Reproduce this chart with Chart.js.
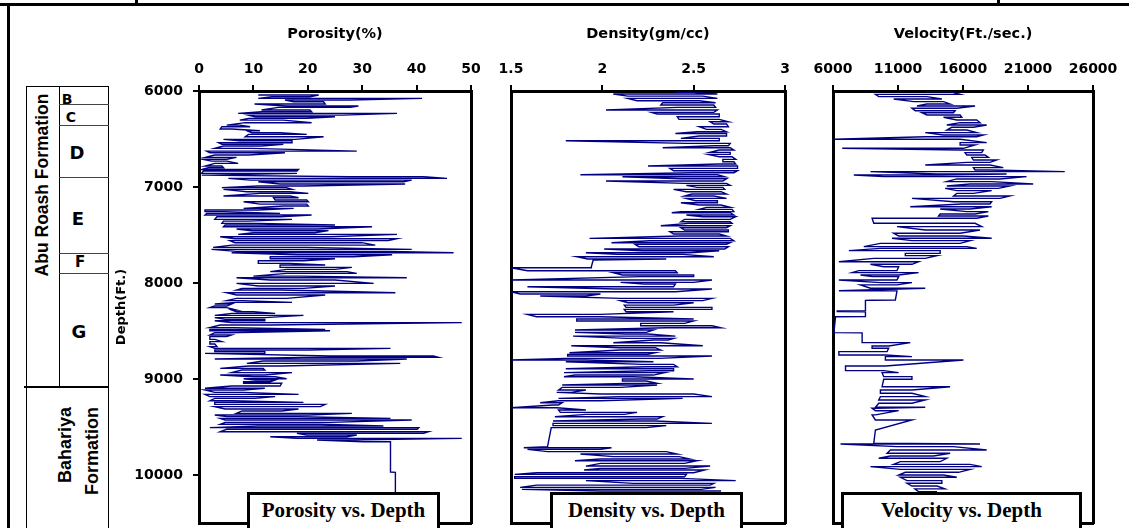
<!DOCTYPE html>
<html>
<head>
<meta charset="utf-8">
<script src="https://cdn.jsdelivr.net/npm/chart.js@4.4.1/dist/chart.umd.min.js"></script>
<style>
  html, body { margin: 0; padding: 0; background: #fff; }
  #page { position: relative; width: 1129px; height: 528px; overflow: hidden; background: #fff; }
  canvas { position: absolute; top: 0; }
  .ln { position: absolute; background: #000; }
  .rot { position: absolute; white-space: nowrap; font-family: "Liberation Sans", Arial, sans-serif; font-weight: bold; transform: translate(-50%, -50%) rotate(-90deg); line-height: 1; }
  .zone { position: absolute; font-family: "DejaVu Sans", sans-serif; font-weight: bold; transform: translate(-50%, -50%); line-height: 1; }
  .cap { position: absolute; top: 492px; height: 50px; background: #fff; border: 3px solid #000; box-sizing: border-box;
         font-family: "Liberation Serif", "Times New Roman", serif; font-weight: bold; font-size: 21px; line-height: 26px; text-align: center; padding-top: 2px; }
</style>
</head>
<body>
<div id="page">
  <!-- outer frame -->
  <div class="ln" style="left:0;top:3px;width:1129px;height:3px"></div>
  <div class="ln" style="left:135px;top:0;width:3px;height:5px"></div>
  <div class="ln" style="left:997px;top:0;width:3px;height:5px"></div>
  <div class="ln" style="left:7px;top:4px;width:3px;height:524px"></div>

  <!-- formation column -->
  <div style="position:absolute;left:26px;top:86px;width:83px;height:460px;border:1px solid #000;box-sizing:border-box"></div>
  <div class="ln" style="left:59px;top:86px;width:1px;height:301px"></div>
  <div class="ln" style="left:59px;top:104px;width:50px;height:1px;background:#444"></div>
  <div class="ln" style="left:59px;top:125px;width:50px;height:1px;background:#444"></div>
  <div class="ln" style="left:59px;top:177px;width:50px;height:1px;background:#444"></div>
  <div class="ln" style="left:59px;top:253px;width:50px;height:1px;background:#444"></div>
  <div class="ln" style="left:59px;top:273px;width:50px;height:1px;background:#444"></div>
  <div class="ln" style="left:24px;top:386px;width:85px;height:2px"></div>

  <div class="rot" style="left:43px;top:185px;font-size:17.5px">Abu Roash Formation</div>
  <div class="rot" style="left:65px;top:445px;font-size:18px">Bahariya</div>
  <div class="rot" style="left:92px;top:451px;font-size:18px">Formation</div>

  <div class="zone" style="left:67px;top:99px;font-size:14px">B</div>
  <div class="zone" style="left:71px;top:117px;font-size:14px">C</div>
  <div class="zone" style="left:77px;top:153px;font-size:18px">D</div>
  <div class="zone" style="left:78px;top:219px;font-size:18px">E</div>
  <div class="zone" style="left:80px;top:262px;font-size:15px">F</div>
  <div class="zone" style="left:79px;top:332px;font-size:18px">G</div>

  <canvas id="porosity" width="370" height="528" style="left:110px"></canvas>
  <canvas id="density" width="310" height="528" style="left:485px"></canvas>
  <canvas id="velocity" width="329" height="528" style="left:800px"></canvas>

  <div class="cap" style="left:247px;width:193px">Porosity vs. Depth</div>
  <div class="cap" style="left:550px;width:193px">Density vs. Depth</div>
  <div class="cap" style="left:841px;width:241px">Velocity vs. Depth</div>
</div>

<script>
// depth axis (ft)
const depthMin = 6000;
const depthMax = 10500;
const depthTicks = [6000, 7000, 8000, 9000, 10000];

// top scale ticks of each track
const porTicks = [0, 10, 20, 30, 40, 50];
const denTicks = [1.5, 2, 2.5, 3];
const velTicks = [6000, 11000, 16000, 21000, 26000];

// porosity (%) : each row is one swing of the log between a low and a high reading
const porDepth = [
  6042,6060,6077,6094,6112,6136,6157,6171,6198,6216,
  6233,6251,6268,6285,6303,6330,6355,6372,6396,6414,
  6435,6452,6476,6504,6518,6539,6556,6573,6598,6626,
  6643,6667,6692,6712,6730,6754,6782,6799,6817,6834,
  6858,6876,6893,6910,6928,6945,6969,6990,7007,7025,
  7049,7066,7094,7112,7136,7153,7178,7198,7223,7240,
  7257,7275,7292,7310,7337,7355,7379,7396,7414,7438,
  7455,7476,7494,7518,7539,7559,7580,7605,7629,7650,
  7671,7685,7705,7726,7747,7768,7796,7813,7837,7858,
  7882,7900,7928,7945,7969,8004,8031,8056,8073,8101,
  8125,8160,8184,8202,8219,8240,8257,8281,8299,8316,
  8337,8361,8379,8393,8413,8438,8465,8483,8497,8518,
  8542,8559,8587,8611,8636,8663,8681,8698,8715,8733,
  8761,8775,8792,8813,8837,8865,8889,8906,8934,8959,
  8976,8997,9011,9028,9045,9073,9097,9115,9139,9160,
  9184,9202,9226,9243,9264,9288,9313,9333,9358,9375,
  9392,9410,9427,9452,9472,9490,9507,9524,9549,9566,
  9583,9601,9618,9636,9653,9655,9969,9972,10500
];
const porLow = [
  10.9,13.4,10.9,15.8,17.4,10.2,16.1,14.6,11.5,11.5,
  7.2,9.1,10.3,9.1,7.5,8.5,5.1,4.2,3.9,8.8,
  9.7,9.1,8.5,4.5,7.5,3.6,4.2,4.5,2.9,1.4,
  2.0,2.9,1.1,0.8,2.3,2.9,1.1,1.7,0.5,0.8,
  0.5,0.5,27.8,5.4,9.4,10.9,14.9,10.9,4.2,4.5,
  8.8,11.2,4.5,13.7,14.0,8.2,11.2,15.5,8.2,1.1,
  1.1,1.4,1.1,3.3,2.9,4.5,4.2,4.8,4.5,6.9,
  9.7,10.0,7.2,3.9,6.6,5.7,6.6,6.0,2.6,2.3,
  6.9,6.0,18.0,13.1,13.1,10.9,10.9,14.9,14.9,16.1,
  13.1,16.1,10.0,6.9,13.1,6.9,10.9,7.9,6.9,5.1,
  6.9,6.9,5.1,6.9,2.9,2.9,2.0,6.0,6.9,6.0,
  2.9,2.9,4.8,2.9,6.0,3.9,2.0,2.0,2.0,2.9,
  2.0,2.0,2.0,2.0,2.0,2.0,2.9,2.9,2.9,1.1,
  24.1,18.9,2.9,11.8,8.8,9.1,3.9,7.9,6.0,3.9,
  10.0,8.2,10.3,8.2,8.2,6.0,1.1,1.1,2.9,1.1,
  2.0,2.9,2.0,2.9,2.9,2.9,4.8,7.9,6.9,2.9,
  5.1,3.9,4.8,4.8,3.9,10.9,2.0,5.1,3.9,18.0,
  19.8,13.1,18.0,21.7,30.2,35.2,35.2,36.1,36.1
];
const porHigh = [
  22.0,20.4,41.0,27.8,22.9,23.2,29.3,27.8,20.4,20.7,
  36.4,26.3,25.0,19.8,15.5,20.7,7.5,9.4,6.0,11.2,
  14.9,19.8,22.9,17.7,17.1,17.1,15.5,11.5,9.7,29.0,
  15.8,9.1,6.9,5.1,5.1,7.2,4.2,4.5,18.3,18.0,
  18.0,2.0,41.3,45.6,39.1,37.6,37.9,19.2,16.1,17.1,
  16.7,20.1,16.7,18.3,19.8,20.1,19.8,20.1,17.4,10.9,
  4.5,14.9,20.7,14.9,17.1,9.1,10.9,25.0,31.8,21.7,
  23.8,21.3,36.4,24.1,36.4,34.8,29.9,32.4,19.8,39.1,
  35.2,46.8,35.5,28.4,25.0,19.2,16.7,23.2,28.1,25.0,
  27.2,29.0,18.6,38.2,25.0,32.1,25.0,19.2,15.2,36.1,
  23.2,16.1,8.2,17.1,6.0,5.1,5.1,6.9,10.0,14.0,
  19.2,12.1,12.1,12.1,48.3,13.1,6.3,23.2,24.1,5.1,
  6.0,5.1,2.9,4.2,2.9,3.3,35.2,20.1,12.1,12.1,
  43.1,44.0,38.2,29.0,37.0,15.2,11.8,12.1,17.1,12.1,
  14.0,16.1,14.0,13.1,15.2,14.9,12.1,8.2,8.2,18.3,
  14.0,10.3,6.0,19.2,23.2,22.3,18.3,15.2,28.1,20.1,
  18.3,35.2,39.1,24.1,22.3,33.9,40.4,40.1,42.2,41.3,
  29.0,27.2,48.3,27.2,35.2,35.2,35.2,36.1,36.1
];

// bulk density (gm/cc)
const denDepth = [
  6014,6032,6053,6077,6101,6122,6146,6171,6198,6223,
  6240,6268,6296,6320,6344,6372,6400,6424,6442,6469,
  6494,6518,6546,6570,6591,6615,6639,6660,6685,6712,
  6737,6761,6782,6806,6830,6851,6872,6893,6914,6938,
  6962,6983,7004,7025,7049,7073,7094,7119,7143,7164,
  7188,7212,7233,7257,7268,7292,7310,7337,7362,7379,
  7403,7424,7448,7466,7490,7511,7535,7560,7580,7598,
  7622,7646,7664,7685,7702,7726,7750,7761,7830,7841,
  7872,7893,7917,7934,7969,7994,8011,8039,8063,8091,
  8115,8136,8160,8184,8205,8230,8254,8275,8299,8327,
  8351,8375,8396,8421,8445,8466,8490,8514,8532,8553,
  8577,8594,8622,8653,8674,8698,8726,8743,8761,8785,
  8802,8820,8848,8872,8893,8914,8934,8959,8976,9000,
  9021,9046,9063,9087,9115,9139,9157,9184,9202,9226,
  9247,9271,9299,9323,9348,9368,9393,9417,9438,9462,
  9486,9507,9510,9705,9716,9733,9757,9782,9809,9834,
  9851,9879,9907,9931,9948,9976,9993,10018,10035,10059,
  10087,10105,10129,10150,10167
];
const denLow = [
  2.40,2.06,2.14,2.14,2.19,2.33,2.32,2.41,2.02,2.27,
  2.30,2.41,2.42,2.59,2.61,2.53,2.57,2.52,2.40,2.53,
  2.43,1.80,2.46,2.61,2.33,2.64,2.59,2.58,2.64,2.66,
  2.66,2.64,2.25,2.37,2.39,2.50,1.88,2.11,2.43,2.02,
  2.45,2.46,2.52,2.39,2.46,2.49,2.45,2.46,2.51,2.43,
  2.53,2.57,2.53,2.43,2.38,2.46,2.55,2.45,2.43,2.47,
  2.32,2.43,2.45,2.37,2.39,2.42,1.93,2.26,2.05,2.18,
  2.20,2.01,2.22,1.91,2.08,1.86,1.92,1.95,1.94,1.50,
  1.59,2.06,2.11,2.21,1.50,2.10,2.23,1.59,2.07,1.50,
  1.55,1.66,2.10,2.10,2.14,2.12,2.13,2.12,2.13,1.59,
  1.64,1.86,1.86,2.21,2.21,2.35,1.85,1.85,2.13,1.84,
  2.13,2.28,2.06,1.83,2.09,2.10,1.82,1.81,1.81,1.80,
  1.50,1.80,2.22,2.24,1.80,2.26,1.79,1.85,1.79,2.11,
  2.11,2.13,1.78,1.78,1.76,1.75,1.99,2.10,1.76,1.76,
  1.66,1.73,1.50,1.76,1.77,1.91,1.74,2.21,1.73,1.73,
  1.73,1.72,1.72,1.70,1.57,1.59,1.70,1.88,2.06,1.99,
  1.85,1.99,1.91,1.99,1.90,1.64,1.52,1.52,1.52,1.91,
  2.17,1.64,1.55,1.56,1.99
];
const denHigh = [
  2.50,2.63,2.55,2.63,2.53,2.62,2.61,2.62,2.63,2.61,
  2.64,2.64,2.64,2.69,2.68,2.69,2.65,2.68,2.68,2.68,
  2.64,2.64,2.70,2.69,2.70,2.72,2.70,2.70,2.71,2.73,
  2.72,2.73,2.74,2.74,2.74,2.72,2.63,2.67,2.68,2.66,
  2.68,2.70,2.66,2.67,2.65,2.68,2.61,2.68,2.63,2.63,
  2.65,2.70,2.71,2.72,2.70,2.72,2.73,2.70,2.70,2.71,
  2.70,2.68,2.69,2.69,2.64,2.68,2.70,2.72,2.70,2.68,
  2.69,2.67,2.64,2.48,2.44,2.61,2.35,1.95,1.94,1.94,
  2.40,2.41,2.50,2.50,2.60,2.50,2.40,2.39,2.60,2.40,
  1.99,1.91,2.60,2.55,2.50,2.39,2.60,2.60,2.39,1.99,
  1.99,2.50,2.50,2.45,2.60,2.65,2.28,2.24,2.25,2.40,
  2.39,2.36,2.32,2.55,2.29,2.32,2.29,2.25,2.60,2.31,
  1.91,2.28,2.39,2.41,2.39,2.39,2.34,2.28,2.17,2.50,
  2.24,2.30,2.30,2.10,1.91,1.83,2.50,2.60,2.44,1.99,
  1.78,1.76,1.75,1.91,2.19,2.12,2.33,2.30,2.29,2.60,
  2.35,2.24,1.72,1.70,2.05,1.99,2.35,2.41,2.42,2.48,
  2.52,2.45,2.59,2.45,2.56,2.50,2.46,2.45,2.43,2.73,
  2.61,2.59,2.62,2.54,2.65
];

// velocity (ft/sec)
const velDepth = [
  6007,6035,6059,6083,6111,6135,6156,6180,6205,6226,
  6250,6274,6302,6330,6354,6378,6406,6434,6458,6476,
  6503,6538,6562,6597,6614,6642,6666,6691,6719,6743,
  6771,6798,6823,6840,6864,6875,6892,6916,6944,6969,
  6989,7014,7038,7066,7093,7118,7153,7177,7205,7229,
  7257,7281,7302,7326,7378,7413,7448,7482,7510,7534,
  7559,7587,7621,7639,7663,7691,7715,7743,7778,7805,
  7830,7871,7892,7916,7934,7968,7996,8020,8055,8080,
  8082,8177,8179,8181,8290,8292,8298,8300,8350,8352,
  8517,8519,8621,8656,8680,8715,8750,8767,8802,8864,
  8913,8934,8975,9003,9080,9114,9149,9184,9218,9253,
  9295,9305,9330,9374,9427,9531,9670,9677,9704,9739,
  9774,9802,9826,9861,9889,9913,9941,9972,10000,10024,
  10059,10086,10115,10145,10175
];
const velLow = [
  13095,9263,9518,10668,12201,13223,12456,12073,12329,12840,
  13223,14500,15522,15778,14756,15139,14756,13095,14500,13095,
  6100,15778,15778,6708,15778,16161,16289,16672,16800,16289,
  13095,16800,16928,8879,13989,7602,9901,15522,14756,16544,
  14756,14628,15522,15522,15267,12073,15267,15906,11945,14245,
  16289,14245,14117,9007,9135,10923,13095,10668,11051,10540,
  12073,9646,8368,9646,7219,11562,11562,9135,6452,8879,
  9901,7985,7474,8113,9007,6452,9646,8113,8879,6452,
  10923,10796,9007,8496,8496,6324,6324,8496,8496,6197,
  6069,8240,8240,9007,9007,6452,6452,10029,10029,6963,
  6963,9774,9901,9901,9774,9646,9646,9646,9518,9518,
  9263,9007,9263,9007,9263,9263,9135,6580,10923,10412,
  10157,10412,9518,11179,10668,8879,11179,11562,11051,11179,
  11690,11690,12073,12300,12600
];
const velHigh = [
  15011,15778,13223,14373,14500,15011,16928,15522,15395,15267,
  15778,15906,17055,17311,17822,16800,16289,17055,17566,17055,
  15778,17822,16928,16033,17566,17439,17694,17950,18589,18077,
  18077,19100,18077,23826,19355,14245,20888,18844,18205,21399,
  19610,18716,18205,16800,19610,18844,18205,18077,18205,16544,
  17950,16928,17950,17055,16928,17439,17311,15778,16033,18205,
  16544,15778,16289,17055,14245,14245,13989,13095,12584,12073,
  11051,10923,12584,11051,11051,10923,12073,10923,13095,6452,
  10923,10796,9007,8496,8496,6324,6324,8496,8496,6197,
  6069,8240,11945,10285,10285,10157,10029,12073,16033,10029,
  9901,11051,12073,12073,15011,12073,12073,13095,13095,12073,
  13095,9263,11051,9263,12073,9263,9135,17311,15267,17822,
  15011,13734,14756,14245,16544,17439,16544,15650,14500,15522,
  14373,14373,14000,14600,14000
];

Chart.defaults.font.family = '"DejaVu Sans", sans-serif';
Chart.defaults.font.weight = 'bold';
Chart.defaults.color = '#000';

const PLOT_TOP = 91, PLOT_BOTTOM = 523, PAGE_H = 528;

// the log is drawn as one continuous trace swinging between the low and high reading of each row
function trace(depths, lows, highs) {
  const pts = [];
  depths.forEach((d, i) => {
    if (i % 2 === 0) pts.push({ x: lows[i], y: d }, { x: highs[i], y: d });
    else pts.push({ x: highs[i], y: d }, { x: lows[i], y: d });
  });
  return pts;
}

function fixedTicks(values) {
  return s => { s.ticks = values.map(v => ({ value: v })); };
}

// pin a scale's size and drop the label overhang padding so every plot box lines up
function pin(size) {
  return s => {
    if (s.isHorizontal()) s.height = size; else s.width = size;
    s.paddingTop = 0; s.paddingBottom = 0; s.paddingLeft = 0; s.paddingRight = 0;
  };
}

function makeTrack(id, o) {
  const canvas = document.getElementById(id);
  const canvasLeft = parseInt(canvas.style.left, 10);
  const leftW = o.plotLeft - canvasLeft;
  const rightW = canvas.width - (o.plotRight - canvasLeft);
  const frame = { color: '#000', width: 3 };
  return new Chart(canvas, {
    type: 'scatter',
    data: {
      datasets: [{
        data: o.points,
        showLine: true,
        borderColor: '#000080',
        borderWidth: 1.4,
        pointRadius: 0,
        pointHoverRadius: 0,
        tension: 0
      }]
    },
    options: {
      responsive: false,
      animation: false,
      devicePixelRatio: 1,
      events: [],
      layout: { padding: 0, autoPadding: false },
      plugins: { legend: { display: false }, tooltip: { enabled: false } },
      scales: {
        x: {
          type: 'linear', position: 'top',
          min: o.ticks[0], max: o.ticks[o.ticks.length - 1],
          afterBuildTicks: fixedTicks(o.ticks),
          ticks: { autoSkip: false, maxRotation: 0, padding: 7, font: { size: 14, weight: 'bold' },
                   callback: v => String(v) },
          grid: { drawOnChartArea: false, drawTicks: true, tickLength: 6, color: '#000', lineWidth: 2 },
          border: frame,
          title: { display: true, text: o.title, font: { size: 14.5, weight: 'bold' }, padding: { top: 26, bottom: 0 } },
          afterFit: pin(PLOT_TOP)
        },
        y: {
          type: 'linear', position: 'left', reverse: true,
          min: depthMin, max: depthMax,
          afterBuildTicks: fixedTicks(depthTicks),
          ticks: { display: o.showDepth, autoSkip: false, padding: 10, font: { size: 14, weight: 'bold' },
                   callback: v => String(v) },
          grid: { display: o.showDepth, drawOnChartArea: false, tickLength: 6, color: '#000', lineWidth: 2 },
          border: frame,
          title: { display: o.showDepth, text: 'Depth(Ft.)', font: { size: 13, weight: 'bold' }, padding: { top: 4, bottom: 0 } },
          afterFit: pin(leftW)
        },
        x2: {
          type: 'linear', position: 'bottom', min: 0, max: 1,
          ticks: { display: false }, grid: { display: false }, border: frame,
          afterFit: pin(PAGE_H - PLOT_BOTTOM)
        },
        y2: {
          type: 'linear', position: 'right', min: 0, max: 1,
          ticks: { display: false }, grid: { display: false }, border: frame,
          afterFit: pin(rightW)
        }
      }
    }
  });
}

makeTrack('porosity', { title: 'Porosity(%)', ticks: porTicks, plotLeft: 199, plotRight: 471, showDepth: true,
                        points: trace(porDepth, porLow, porHigh) });
makeTrack('density', { title: 'Density(gm/cc)', ticks: denTicks, plotLeft: 511, plotRight: 785, showDepth: false,
                       points: trace(denDepth, denLow, denHigh) });
makeTrack('velocity', { title: 'Velocity(Ft./sec.)', ticks: velTicks, plotLeft: 833, plotRight: 1093, showDepth: false,
                        points: trace(velDepth, velLow, velHigh) });
</script>
</body>
</html>
